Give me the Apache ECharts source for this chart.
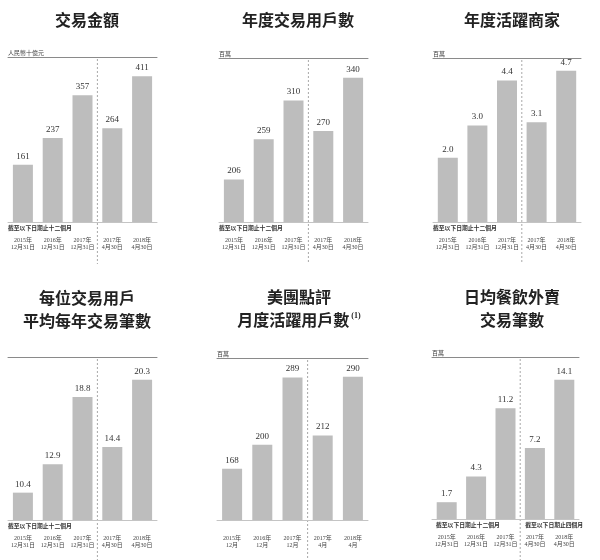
<!DOCTYPE html>
<html>
<head>
<meta charset="utf-8">
<script src="https://cdn.jsdelivr.net/npm/echarts@6/dist/echarts.min.js"></script>
<style>
html,body{margin:0;padding:0;background:#fff;}
#chart{width:600px;height:560px;}
</style>
</head>
<body>
<div id="chart"></div>
<script>
// ---- data ----
const categoriesFull = ['2015年\n12月31日', '2016年\n12月31日', '2017年\n12月31日', '2017年\n4月30日', '2018年\n4月30日'];
const categoriesMonth = ['2015年\n12月', '2016年\n12月', '2017年\n12月', '2017年\n4月', '2018年\n4月'];
const gtvValues = [161, 237, 357, 264, 411];
const transactingUsers = [206, 259, 310, 270, 340];
const activeMerchants = [2.0, 3.0, 4.4, 3.1, 4.7];
const txnPerUser = [10.4, 12.9, 18.8, 14.4, 20.3];
const monthlyActiveUsers = [168, 200, 289, 212, 290];
const dailyOrders = [1.7, 4.3, 11.2, 7.2, 14.1];

const titles = [
  ['交易金額'],
  ['年度交易用戶數'],
  ['年度活躍商家'],
  ['每位交易用戶', '平均每年交易筆數'],
  ['美團點評', '月度活躍用戶數{sup|(1)}'],
  ['日均餐飲外賣', '交易筆數']
];
const units = ['人民幣十億元', '百萬', '百萬', '', '百萬', '百萬'];
const note12 = '截至以下日期止十二個月';
const note4 = '截至以下日期止四個月';

// ---- layout ----
const panels = [
  {data: gtvValues, cats: categoriesFull, dec: false, left: 8, top: 57, width: 149, height: 165, min: 0, max: 465, tx: 82, ty: 15},
  {data: transactingUsers, cats: categoriesFull, dec: false, left: 219, top: 58, width: 149, height: 164, min: 150, max: 366, tx: 293, ty: 15},
  {data: activeMerchants, cats: categoriesFull, dec: true, left: 433, top: 58, width: 148, height: 164, min: 0, max: 5.1, tx: 507, ty: 15},
  {data: txnPerUser, cats: categoriesFull, dec: true, left: 8, top: 357, width: 149, height: 163, min: 8, max: 22.3, tx: 82, ty: 293},
  {data: monthlyActiveUsers, cats: categoriesMonth, dec: false, left: 217, top: 358, width: 151, height: 162, min: 100, max: 315, tx: 294, ty: 292},
  {data: dailyOrders, cats: categoriesFull, dec: true, left: 432, top: 357, width: 147, height: 162, min: 0, max: 16.4, tx: 507, ty: 292}
];

const serif = "'Liberation Serif', 'Noto Sans CJK TC', serif";
const cjk = "'Noto Sans CJK TC', sans-serif";

const chart = echarts.init(document.getElementById('chart'), null, {renderer: 'canvas'});

const option = {
  backgroundColor: '#ffffff',
  animation: false,
  title: [],
  grid: [],
  xAxis: [],
  yAxis: [],
  series: []
};

panels.forEach((p, i) => {
  titles[i].forEach((t, j) => {
    option.title.push({
      text: t,
      left: p.tx,
      top: p.ty + j * 23,
      textAlign: 'center',
      textVerticalAlign: 'middle',
      textStyle: {
        fontFamily: cjk, fontWeight: 'bold', fontSize: 16, color: '#222',
        rich: {sup: {fontFamily: serif, fontSize: 8, color: '#222', verticalAlign: 'top', padding: [0, 0, 6, 2]}}
      }
    });
  });
  option.grid.push({left: p.left, top: p.top, width: p.width, height: p.height, containLabel: false});
  option.xAxis.push({
    type: 'category', gridIndex: i, data: p.cats, position: 'bottom',
    axisLine: {show: true, lineStyle: {color: '#c4c4c4', width: 1}},
    axisTick: {show: false},
    axisLabel: {fontFamily: serif, fontSize: 6, lineHeight: 7, color: '#444', margin: 15, interval: 0}
  });
  option.xAxis.push({
    type: 'category', gridIndex: i, data: p.cats, position: 'top',
    axisLine: {show: true, lineStyle: {color: '#8a8a8a', width: 1}},
    axisTick: {show: false}, axisLabel: {show: false}
  });
  option.yAxis.push({type: 'value', gridIndex: i, min: p.min, max: p.max, show: false, splitLine: {show: false}});
  option.series.push({
    type: 'bar', xAxisIndex: i * 2, yAxisIndex: i, data: p.data, barWidth: 20,
    itemStyle: {color: '#bdbdbd'},
    label: {
      show: true, position: 'top', distance: 4,
      fontFamily: serif, fontSize: 9, color: '#333',
      formatter: (d) => p.dec ? d.value.toFixed(1) : String(d.value)
    }
  });
});

chart.setOption(option);

const graphics = [];
panels.forEach((p, i) => {
  const x2 = chart.convertToPixel({xAxisIndex: i * 2}, 2);
  const x3 = chart.convertToPixel({xAxisIndex: i * 2}, 3);
  const xm = (x2 + x3) / 2;
  graphics.push({
    type: 'line', silent: true,
    shape: {x1: xm, y1: p.top + 2, x2: xm, y2: p.top + p.height + 42},
    style: {stroke: '#a8a8a8', lineWidth: 1, lineDash: [2, 2]}
  });
  if (units[i]) {
    graphics.push({
      type: 'text', silent: true, x: p.left, y: p.top - 1,
      style: {text: units[i], font: '6px ' + cjk, fill: '#444', textAlign: 'left', textVerticalAlign: 'bottom'}
    });
  }
  if (i !== 4) {
    graphics.push({
      type: 'text', silent: true, x: p.left + (i === 5 ? 4 : 0), y: p.top + p.height + 6,
      style: {text: note12, font: 'bold 5.8px ' + cjk, fill: '#333', textAlign: 'left', textVerticalAlign: 'middle'}
    });
  }
  if (i === 5) {
    graphics.push({
      type: 'text', silent: true, x: xm + 5, y: p.top + p.height + 6,
      style: {text: note4, font: 'bold 5.8px ' + cjk, fill: '#333', textAlign: 'left', textVerticalAlign: 'middle'}
    });
  }
});
chart.setOption({graphic: graphics});
</script>
</body>
</html>
